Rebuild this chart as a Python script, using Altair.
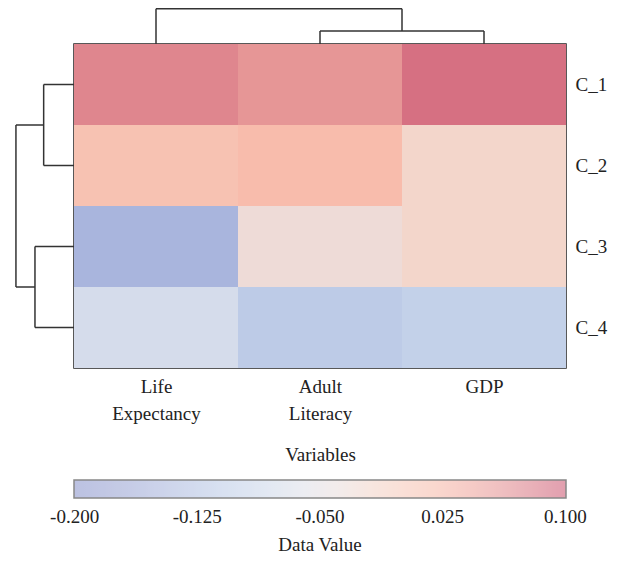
import json
import altair as alt
import pandas as pd

# ---- data ----
rows = ["C_1", "C_2", "C_3", "C_4"]
cols = ["Life Expectancy", "Adult Literacy", "GDP"]
values = [
    [0.070, 0.058, 0.085],
    [0.011, 0.020, -0.020],
    [-0.146, -0.032, -0.020],
    [-0.074, -0.110, -0.100],
]
col_label_lines = [["Life", "Expectancy"], ["Adult", "Literacy"], ["GDP"]]
legend_ticks = [-0.200, -0.125, -0.050, 0.025, 0.100]

# dendrogram linkages: [node_a, node_b, height]; leaves are 0..n-1, new nodes n, n+1, ...
col_links = [[1, 2, 0.16], [0, 3, 0.435]]
row_links = [[0, 1, 0.185], [2, 3, 0.238], [4, 5, 0.354]]

# colour stops (muted diverging blue -> white -> pink)
color_domain = [-0.2004, -0.1625, -0.125, -0.0875, -0.05, -0.0125, 0.025, 0.0625, 0.1004]
color_range = ["#8c96cd", "#a0aad7", "#b4c3e4", "#cbd8ec", "#e6e4e8",
               "#f6d2c4", "#f8b9a8", "#e49194", "#cd5a76"]

# ---- tables ----
cells = []
for i, r in enumerate(rows):
    for j, c in enumerate(cols):
        cells.append({"row": r, "col": c, "x0": j, "x1": j + 1,
                      "y0": i, "y1": i + 1, "value": values[i][j]})
df = pd.DataFrame(cells)


def dendro(n, links, horizontal_top):
    pos = {k: k + 0.5 for k in range(n)}
    hgt = {k: 0.0 for k in range(n)}
    segs = []
    nid = n
    for a, b, h in links:
        for ch in (a, b):
            segs.append((pos[ch], hgt[ch], pos[ch], h))
        segs.append((pos[a], h, pos[b], h))
        pos[nid] = (pos[a] + pos[b]) / 2
        hgt[nid] = h
        nid += 1
    out = []
    for p1, h1, p2, h2 in segs:
        if horizontal_top:
            out.append({"x0": p1, "y0": -h1, "x1": p2, "y1": -h2})
        else:
            out.append({"x0": -h1, "y0": p1, "x1": -h2, "y1": p2})
    return out


seg_df = pd.DataFrame(dendro(len(cols), col_links, True) + dendro(len(rows), row_links, False))

FONT = "Liberation Serif"
TXT = "#222222"

xscale = alt.Scale(domain=[0, len(cols)], nice=False, zero=False)
yscale = alt.Scale(domain=[0, len(rows)], nice=False, zero=False, reverse=True)

x_expr = " : ".join(
    f"datum.value < {j + 1} ? {json.dumps(lines)}" for j, lines in enumerate(col_label_lines[:-1])
) + f" : {json.dumps(col_label_lines[-1])}"
y_expr = " : ".join(
    f"datum.value < {i + 1} ? '{r}'" for i, r in enumerate(rows[:-1])
) + f" : '{rows[-1]}'"

xaxis = alt.Axis(values=[j + 0.5 for j in range(len(cols))], labelExpr=x_expr,
                 title="Variables", ticks=False, domain=False, grid=False,
                 labelFontSize=19, labelLineHeight=27, labelPadding=9,
                 labelColor=TXT, titleColor=TXT, titleFontSize=19,
                 titleFontWeight="normal", titlePadding=22, labelAngle=0)
yaxis = alt.Axis(orient="right", values=[i + 0.5 for i in range(len(rows))],
                 labelExpr=y_expr, title=None, ticks=False, domain=False,
                 grid=False, labelFontSize=19, labelPadding=9, labelColor=TXT)

cscale = alt.Scale(domain=color_domain, range=color_range, interpolate="rgb")

legend = alt.Legend(
    type="gradient",
    orient="none", legendX=0, legendY=436, direction="horizontal",
    gradientLength=492, gradientThickness=18, gradientOpacity=0.58,
    gradientStrokeColor="#333333", gradientStrokeWidth=1.5,
    values=legend_ticks,
    labelExpr="replace(format(datum.value, '.3f'), '\u2212', '-')",
    labelAlign="center", labelFontSize=19, labelOffset=10, labelColor=TXT,
    labelOverlap=False,
    title="Data Value", titleOrient="bottom", titleAnchor="middle",
    titleFontSize=19, titleFontWeight="normal", titleColor=TXT,
    titlePadding=9, padding=0,
)

heat = alt.Chart(df).mark_rect().encode(
    x=alt.X("x0:Q", scale=xscale, axis=xaxis),
    x2="x1:Q",
    y=alt.Y("y0:Q", scale=yscale, axis=yaxis),
    y2="y1:Q",
    color=alt.Color("value:Q", scale=cscale, legend=legend),
)

tree = alt.Chart(seg_df).mark_rule(color="#333333", strokeWidth=1.5).encode(
    x=alt.X("x0:Q", scale=xscale),
    x2="x1:Q",
    y=alt.Y("y0:Q", scale=yscale),
    y2="y1:Q",
)

chart = alt.layer(heat, tree).properties(
    width=492, height=324,
    autosize=alt.AutoSizeParams(type="none"),
    padding={"left": 66, "top": 36, "right": 47, "bottom": 188},
).configure(font=FONT).configure_view(stroke="#222222", strokeWidth=1.5)

chart.save("out.html", embed_options={"renderer": "svg", "actions": False})
